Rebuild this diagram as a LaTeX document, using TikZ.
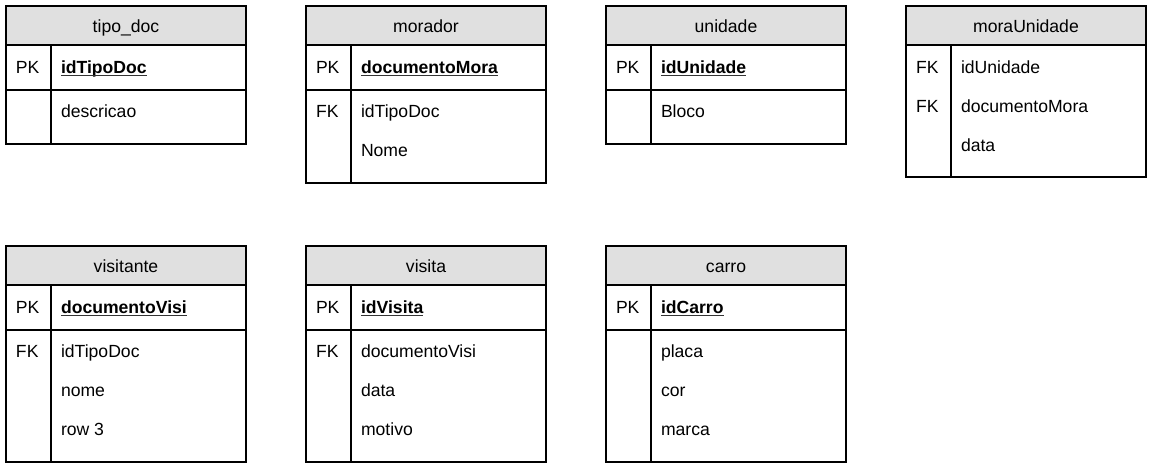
\documentclass[tikz,border=0pt]{standalone}
\usepackage{fontspec}
\setmainfont{Liberation Sans}
\definecolor{hdrgray}{HTML}{E0E0E0}
\begin{document}
\begin{tikzpicture}[x=0.75pt,y=-0.75pt,
  every node/.style={inner sep=0pt,outer sep=0pt,font=\fontsize{13.2}{16}\selectfont},
  hdr/.style={anchor=base},
  keytxt/.style={anchor=base west},
  fld/.style={anchor=base west},
  pkf/.style={anchor=base west,font=\fontsize{13.2}{16}\selectfont\bfseries},
  frame/.style={draw=black,line width=0.9pt},
  uline/.style={draw=black!80,line width=0.9pt}]
\useasboundingbox (0,0) rectangle (1153,468);
% #1 name, #2 x, #3 y, #4 bottom, #5 title
\newcommand{\ertbl}[5]{%
  \path[fill=hdrgray] (#2,#3) rectangle (#2+240,#3+39);
  \coordinate (#1-nw) at (#2,#3);
  \coordinate (#1-se) at (#2+240,#4);
  \draw[frame] (#1-nw) rectangle (#1-se);
  \draw[frame] (#2,#3+39) -- (#2+240,#3+39);
  \draw[frame] (#2+45,#3+39) -- (#2+45,#4);
  \node[hdr] (#1-t) at (#2+120,#3+26) {#5};
}
% PK row: #1 name, #2 x, #3 y, #4 field
\newcommand{\erpk}[4]{%
  \draw[frame] (#2,#3+84) -- (#2+240,#3+84);
  \node[keytxt] (#1-pk) at (#2+10,#3+67) {PK};
  \node[pkf] (#1-pkf) at (#2+55,#3+67) {#4};
  \draw[uline] ([yshift=-2pt]#1-pkf.base west) -- ([yshift=-2pt]#1-pkf.base east);
}

% ---- top row ----
\ertbl{tipodoc}{6}{6}{144}{tipo\_doc}
\erpk{tipodoc}{6}{6}{idTipoDoc}
\node[fld] (tipodoc-f1) at (61,117) {descricao};

\ertbl{morador}{306}{6}{183}{morador}
\erpk{morador}{306}{6}{documentoMora}
\node[keytxt] (morador-k1) at (316,117) {FK};
\node[fld] (morador-f1) at (361,117) {idTipoDoc};
\node[fld] (morador-f2) at (361,156) {Nome};

\ertbl{unidade}{606}{6}{144}{unidade}
\erpk{unidade}{606}{6}{idUnidade}
\node[fld] (unidade-f1) at (661,117) {Bloco};

\ertbl{mora}{906}{6}{177}{moraUnidade}
\node[keytxt] (mora-k1) at (916,73) {FK};
\node[fld] (mora-f1) at (961,73) {idUnidade};
\node[keytxt] (mora-k2) at (916,112) {FK};
\node[fld] (mora-f2) at (961,112) {documentoMora};
\node[fld] (mora-f3) at (961,151) {data};

% ---- bottom row ----
\ertbl{visitante}{6}{246}{462}{visitante}
\erpk{visitante}{6}{246}{documentoVisi}
\node[keytxt] (visitante-k1) at (16,357) {FK};
\node[fld] (visitante-f1) at (61,357) {idTipoDoc};
\node[fld] (visitante-f2) at (61,396) {nome};
\node[fld] (visitante-f3) at (61,435) {row 3};

\ertbl{visita}{306}{246}{462}{visita}
\erpk{visita}{306}{246}{idVisita}
\node[keytxt] (visita-k1) at (316,357) {FK};
\node[fld] (visita-f1) at (361,357) {documentoVisi};
\node[fld] (visita-f2) at (361,396) {data};
\node[fld] (visita-f3) at (361,435) {motivo};

\ertbl{carro}{606}{246}{462}{carro}
\erpk{carro}{606}{246}{idCarro}
\node[fld] (carro-f1) at (661,357) {placa};
\node[fld] (carro-f2) at (661,396) {cor};
\node[fld] (carro-f3) at (661,435) {marca};
\end{tikzpicture}
\end{document}
